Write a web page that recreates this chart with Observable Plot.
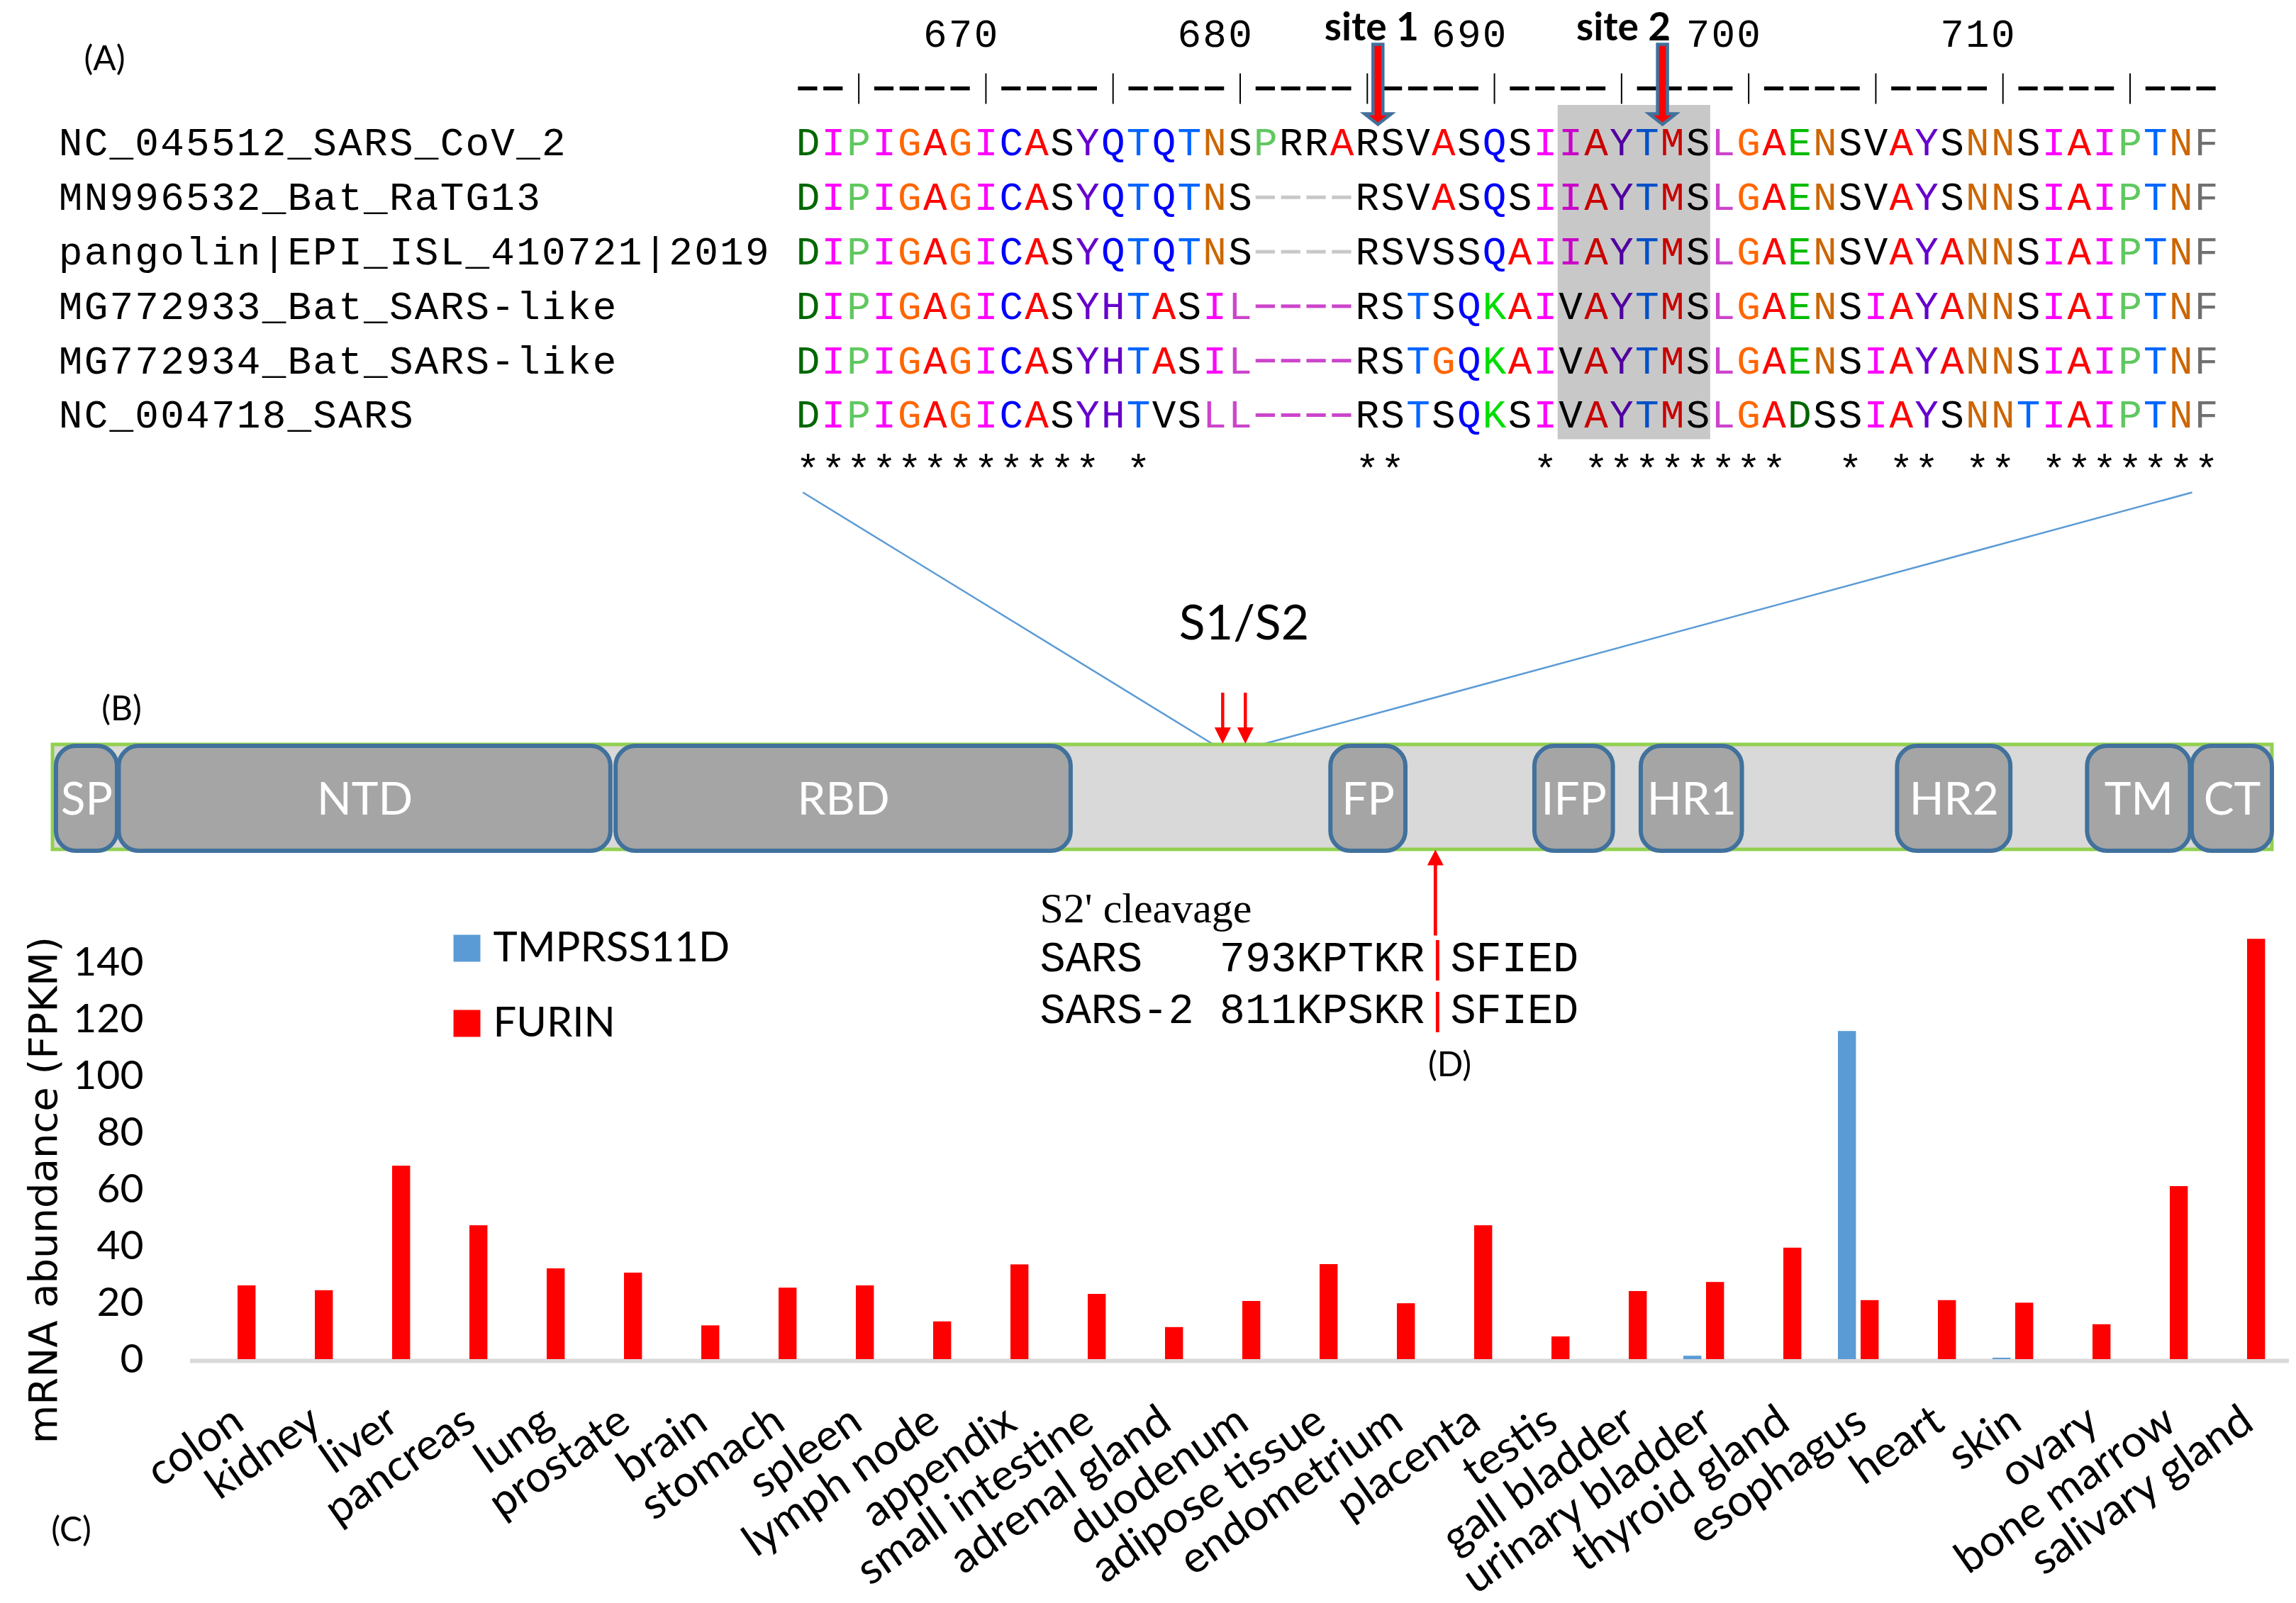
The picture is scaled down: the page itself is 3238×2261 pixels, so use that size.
<!DOCTYPE html>
<html>
<head>
<meta charset="utf-8">
<script src="https://cdn.jsdelivr.net/npm/d3@7"></script>
<script src="https://cdn.jsdelivr.net/npm/@observablehq/plot@0.6"></script>
<style>
html, body { margin: 0; padding: 0; background: #ffffff; }
#fig { position: relative; width: 3238px; height: 2261px; overflow: hidden; background: #ffffff; }
#fig > svg { position: absolute; left: 0; top: 0; max-width: none !important; background: transparent !important; overflow: visible; }
</style>
</head>
<body>
<div id="fig"></div>
<script>
// ================= DATA =================
// (A) alignment
const seqNames = [
  "NC_045512_SARS_CoV_2",
  "MN996532_Bat_RaTG13",
  "pangolin|EPI_ISL_410721|2019",
  "MG772933_Bat_SARS-like",
  "MG772934_Bat_SARS-like",
  "NC_004718_SARS"
];
const sequences = [
  "DIPIGAGICASYQTQTNSPRRARSVASQSIIAYTMSLGAENSVAYSNNSIAIPTNF",
  "DIPIGAGICASYQTQTNS----RSVASQSIIAYTMSLGAENSVAYSNNSIAIPTNF",
  "DIPIGAGICASYQTQTNS----RSVSSQAIIAYTMSLGAENSVAYANNSIAIPTNF",
  "DIPIGAGICASYHTASIL----RSTSQKAIVAYTMSLGAENSIAYANNSIAIPTNF",
  "DIPIGAGICASYHTASIL----RSTGQKAIVAYTMSLGAENSIAYANNSIAIPTNF",
  "DIPIGAGICASYHTVSLL----RSTSQKSIVAYTMSLGADSSIAYSNNTIAIPTNF"
];
const firstResidue = 663;
const rulerText    = "--|----|----|----|----|----|----|----|----|----|----|---";
const rulerNumbers = [670, 680, 690, 700, 710];
const conservation = "************ *        **     * ********  * ** ** *******";
const cleavageSites = [{label: "site 1", residue: 685}, {label: "site 2", residue: 697}];
const shadedResidues = [693, 698];

// (B) spike domains (positions along the drawn spike bar)
const spikeLength = 1273;
const domains = [
  {name: "SP",  start: 2,    end: 37},
  {name: "NTD", start: 38,   end: 320},
  {name: "RBD", start: 323,  end: 584},
  {name: "FP",  start: 733,  end: 776},
  {name: "IFP", start: 850,  end: 895},
  {name: "HR1", start: 911,  end: 969},
  {name: "HR2", start: 1058, end: 1123},
  {name: "TM",  start: 1167, end: 1226},
  {name: "CT",  start: 1227, end: 1273}
];
const s1s2Arrows = [671, 684];
const s2PrimeArrow = 793;
const zoomWindow = [665, 695];

// (D) S2' cleavage motifs
const s2Motifs = [
  {virus: "SARS",   start: 793, before: "KPTKR", after: "SFIED"},
  {virus: "SARS-2", start: 811, before: "KPSKR", after: "SFIED"}
];

// (C) mRNA abundance (FPKM)
const tissues = ["colon", "kidney", "liver", "pancreas", "lung", "prostate", "brain", "stomach",
  "spleen", "lymph node", "appendix", "small intestine", "adrenal gland", "duodenum", "adipose tissue",
  "endometrium", "placenta", "testis", "gall bladder", "urinary bladder", "thyroid gland", "esophagus",
  "heart", "skin", "ovary", "bone marrow", "salivary gland"];
const furin = [26, 24.3, 68.2, 47.2, 32, 30.5, 11.9, 25.2, 26, 13.3, 33.4, 23, 11.3, 20.5, 33.5,
  19.7, 47.2, 8, 24, 27.2, 39.3, 20.8, 20.8, 19.9, 12.3, 61, 148.2];
const tmprss11d = [0, 0, 0, 0, 0, 0, 0, 0, 0, 0, 0, 0, 0, 0, 0,
  0, 0, 0, 0, 1.2, 0, 115.7, 0, 0.5, 0, 0, 0];
const yTicks = [0, 20, 40, 60, 80, 100, 120, 140];
const seriesNames = ["TMPRSS11D", "FURIN"];

// ================= STYLE =================
const seriesColor = {TMPRSS11D: "#5b9bd5", FURIN: "#ff0000"};
const aaColor = {D: "#006600", I: "#ff00ff", P: "#5fc85f", G: "#ff6600", A: "#ff0000", C: "#0000ff",
  S: "#000000", Y: "#6600cc", Q: "#0000ff", T: "#0066ff", N: "#cc6600", R: "#000000", V: "#000000",
  H: "#6600cc", L: "#cc44cc", K: "#00dd00", E: "#00bb00", F: "#707070", M: "#ff0000"};
const gapColor = row => row <= 2 ? "#c8c8c8" : "#cc44cc";
const mono = "'Liberation Mono', 'DejaVu Sans Mono', monospace";
const sans = "Lato, 'Open Sans', sans-serif";
const serif = "'Liberation Serif', 'DejaVu Serif', serif";
const W = 3238, H = 2261;
const svgStyle = {background: "transparent", overflow: "visible"};
const fig = document.getElementById("fig");

const alignX = {domain: [0, 56], range: [1121, 3129]};
const alignY = {domain: [0, 5], range: [201, 585]};
const spikeX = {domain: [0, spikeLength], range: [74, 3204]};
const spikeY = {domain: [0, 1], range: [1198, 1050]};
const ax = Plot.scale({x: alignX}), ay = Plot.scale({y: alignY});
const sx = Plot.scale({x: spikeX}), sy = Plot.scale({y: spikeY});

function arrowShape(sw, hw, hl) {
  return {draw(ctx, l) {
    ctx.moveTo(-sw, 0); ctx.lineTo(sw, 0); ctx.lineTo(sw, -(l - hl)); ctx.lineTo(hw, -(l - hl));
    ctx.lineTo(0, -l); ctx.lineTo(-hw, -(l - hl)); ctx.lineTo(-sw, -(l - hl)); ctx.closePath();
  }};
}

// ================= (A) alignment =================
const cells = sequences.flatMap((s, row) => [...s].map((ch, col) => ({row, col, ch})));
const nameChars = seqNames.flatMap((n, row) => [...n].map((ch, i) => ({row, col: i - 29, ch})));
const rulerCells = [...rulerText].map((ch, col) => ({ch, col}));
const numberChars = rulerNumbers.flatMap(n => {
  const s = String(n);
  return [...s].map((ch, i) => ({ch, col: n - firstResidue - (s.length - 1 - i)}));
});
const starCells = [...conservation].map((ch, col) => ({ch, col})).filter(d => d.ch === "*");
const siteCol = d => d.residue - firstResidue + 0.5;
const siteDx = [15, -14], siteLabelDx = [6, -69];

const alignPlot = Plot.plot({
  width: W, height: H, margin: 0, style: svgStyle,
  x: {...alignX, axis: null}, y: {...alignY, axis: null}, color: {type: "identity"},
  marks: [
    Plot.text(nameChars, {x: d => d.col + 0.5, y: "row", text: "ch", fontFamily: mono, fontSize: 56, fill: "#000"}),
    Plot.text(cells.filter(d => d.ch !== "-"), {x: d => d.col + 0.5, y: "row", text: "ch",
      fill: d => aaColor[d.ch], fontFamily: mono, fontSize: 56}),
    Plot.ruleY(cells.filter(d => d.ch === "-"), {y: "row", x1: d => d.col + 0.12, x2: d => d.col + 0.88,
      stroke: d => gapColor(d.row), strokeWidth: 5}),
    Plot.rect([shadedResidues], {x1: d => d[0] - firstResidue, x2: d => d[1] - firstResidue + 1,
      y1: -0.69, y2: 5.45, fill: "#c8c8c8", mixBlendMode: "multiply"}),
    Plot.ruleY(rulerCells.filter(d => d.ch === "-"), {y: -1, x1: d => d.col + 0.12, x2: d => d.col + 0.88,
      stroke: "#000", strokeWidth: 5.5}),
    Plot.ruleX(rulerCells.filter(d => d.ch === "|"), {x: d => d.col + 0.5, y1: -1.27, y2: -0.71,
      stroke: "#000", strokeWidth: 2}),
    Plot.text(numberChars, {x: d => d.col + 0.5, y: -2, text: "ch", fontFamily: mono, fontSize: 56, fill: "#000"}),
    Plot.text(starCells, {x: d => d.col + 0.5, y: 6, text: "ch", fontFamily: mono, fontSize: 56, fill: "#000"}),
    ...cleavageSites.map((s, i) => Plot.vector([s], {x: siteCol, y: -1.81, length: 113, rotate: 180,
      anchor: "start", shape: arrowShape(7, 19, 15), fill: "#ff0000", stroke: "#41719c", strokeWidth: 4.5,
      strokeLinejoin: "miter", dx: siteDx[i]})),
    ...cleavageSites.map((s, i) => Plot.text([s], {x: siteCol, y: -2.11, text: "label", fontFamily: sans,
      fontWeight: "bold", fontSize: 55, fill: "#000", dx: siteLabelDx[i]}))
  ]
});
fig.appendChild(alignPlot);

// ================= (B) spike domains =================
const links = [
  {x1: sx.invert(ax.apply(0.3)), y1: sy.invert(ay.apply(6.42)), x2: zoomWindow[0], y2: 1.01},
  {x1: sx.invert(ax.apply(54.94)), y1: sy.invert(ay.apply(6.42)), x2: zoomWindow[1], y2: 1.01}
];
const spikePlot = Plot.plot({
  width: W, height: H, margin: 0, style: svgStyle,
  x: {...spikeX, axis: null}, y: {...spikeY, axis: null},
  marks: [
    Plot.link(links, {x1: "x1", y1: "y1", x2: "x2", y2: "y2", stroke: "#5b9bd5", strokeWidth: 2.5}),
    Plot.rect([spikeLength], {x1: 0, x2: d => d, y1: 0, y2: 1, fill: "#d9d9d9", stroke: "#92d050", strokeWidth: 5}),
    Plot.rect(domains, {x1: "start", x2: "end", y1: -0.014, y2: 0.986, fill: "#a5a5a5",
      stroke: "#41719c", strokeWidth: 6, rx: 28}),
    Plot.text(domains, {x: d => (d.start + d.end) / 2, y: 0.47, text: "name", fill: "#ffffff",
      fontFamily: sans, fontSize: 64}),
    Plot.vector(s1s2Arrows, {x: d => d, y: 1.01, length: 72, rotate: 180, anchor: "end",
      shape: arrowShape(2.2, 11.5, 23), fill: "#ff0000", stroke: "none"}),
    Plot.vector([s2PrimeArrow], {x: d => d, y: 0, length: 121, rotate: 0, anchor: "end",
      shape: arrowShape(2.4, 11.5, 22), fill: "#ff0000", stroke: "none"})
  ]
});
fig.appendChild(spikePlot);

// ================= (C) bar chart =================
const bars = tissues.map((t, i) => ({tissue: t, furin: furin[i], tmprss: tmprss11d[i]}));
const barPlot = Plot.plot({
  width: W, height: H, marginLeft: 268, marginRight: 10, marginTop: 1277, marginBottom: 344, style: svgStyle,
  x: {type: "band", domain: tissues, padding: 0, axis: null},
  y: {domain: [0, 160], axis: null},
  marks: [
    Plot.ruleY([0], {stroke: "#d9d9d9", strokeWidth: 6, dy: 2}),
    Plot.barY(bars, {x: "tissue", y: "tmprss", fill: seriesColor.TMPRSS11D, insetLeft: 26, insetRight: 57.6}),
    Plot.barY(bars, {x: "tissue", y: "furin", fill: seriesColor.FURIN, insetLeft: 58, insetRight: 25.6}),
    Plot.text(yTicks, {y: d => d, frameAnchor: "left", dx: -66, textAnchor: "end", lineAnchor: "middle",
      fontFamily: sans, fontSize: 57, fill: "#000"}),
    Plot.text(tissues, {x: d => d, y: 0, rotate: -35, textAnchor: "end", lineAnchor: "middle", dx: 4, dy: 80,
      fontFamily: sans, fontSize: 62, fill: "#000"})
  ]
});
fig.appendChild(barPlot);

// legend
const legendPlot = Plot.plot({
  width: W, height: H, margin: 0, style: svgStyle,
  y: {type: "point", domain: seriesNames, range: [1337, 1443], padding: 0, axis: null},
  marks: [
    Plot.dot(seriesNames, {y: d => d, frameAnchor: "left", dx: 658, symbol: "square", r: 21.4,
      fill: d => seriesColor[d], stroke: "none"}),
    Plot.text(seriesNames, {y: d => d, text: d => d, frameAnchor: "left", dx: 695, textAnchor: "start",
      lineAnchor: "middle", fontFamily: sans, fontSize: 58, fill: "#000"})
  ]
});
fig.appendChild(legendPlot);

// ================= annotations (panel labels, titles, D) =================
const note = (t, dx, dy, o = {}) => Plot.text([t], {frameAnchor: "top-left", dx, dy, fill: "#000",
  textAnchor: "middle", lineAnchor: "middle", ...o});
const pad = s => s.replace(/ /g, "\u00a0");
const motifLeft = s2Motifs.map(m => pad(m.virus.padEnd(7) + m.start + m.before));
const motifRight = s2Motifs.map(m => m.after);
const cut = motifLeft[0].length;
const charW = 36.18;
const motifY = [1350, 1423];
const annotPlot = Plot.plot({
  width: W, height: H, margin: 0, style: svgStyle,
  marks: [
    note("(A)", 147, 83, {fontFamily: sans, fontSize: 48}),
    note("(B)", 171, 1000, {fontFamily: sans, fontSize: 48}),
    note("(C)", 100, 2158, {fontFamily: sans, fontSize: 48}),
    note("(D)", 2044, 1502, {fontFamily: sans, fontSize: 48}),
    note("S1/S2", 1754, 880, {fontFamily: sans, fontSize: 68}),
    note("mRNA abundance (FPKM)", 62, 1678, {fontFamily: "'DejaVu Sans', sans-serif", fontSize: 56, rotate: -90}),
    note("S2' cleavage", 1466, 1281, {fontFamily: serif, fontSize: 60, textAnchor: "start"}),
    ...motifLeft.map((line, i) => note(line, 1466, motifY[i], {fontFamily: mono, fontSize: 60.3, textAnchor: "start"})),
    ...motifLeft.map((line, i) => note("|", 1466 + cut * charW, motifY[i], {fontFamily: mono, fontSize: 60.3,
      textAnchor: "start", fill: "#ff0000"})),
    ...motifRight.map((line, i) => note(line, 1466 + (cut + 1) * charW, motifY[i], {fontFamily: mono, fontSize: 60.3,
      textAnchor: "start"}))
  ]
});
fig.appendChild(annotPlot);
</script>
</body>
</html>
